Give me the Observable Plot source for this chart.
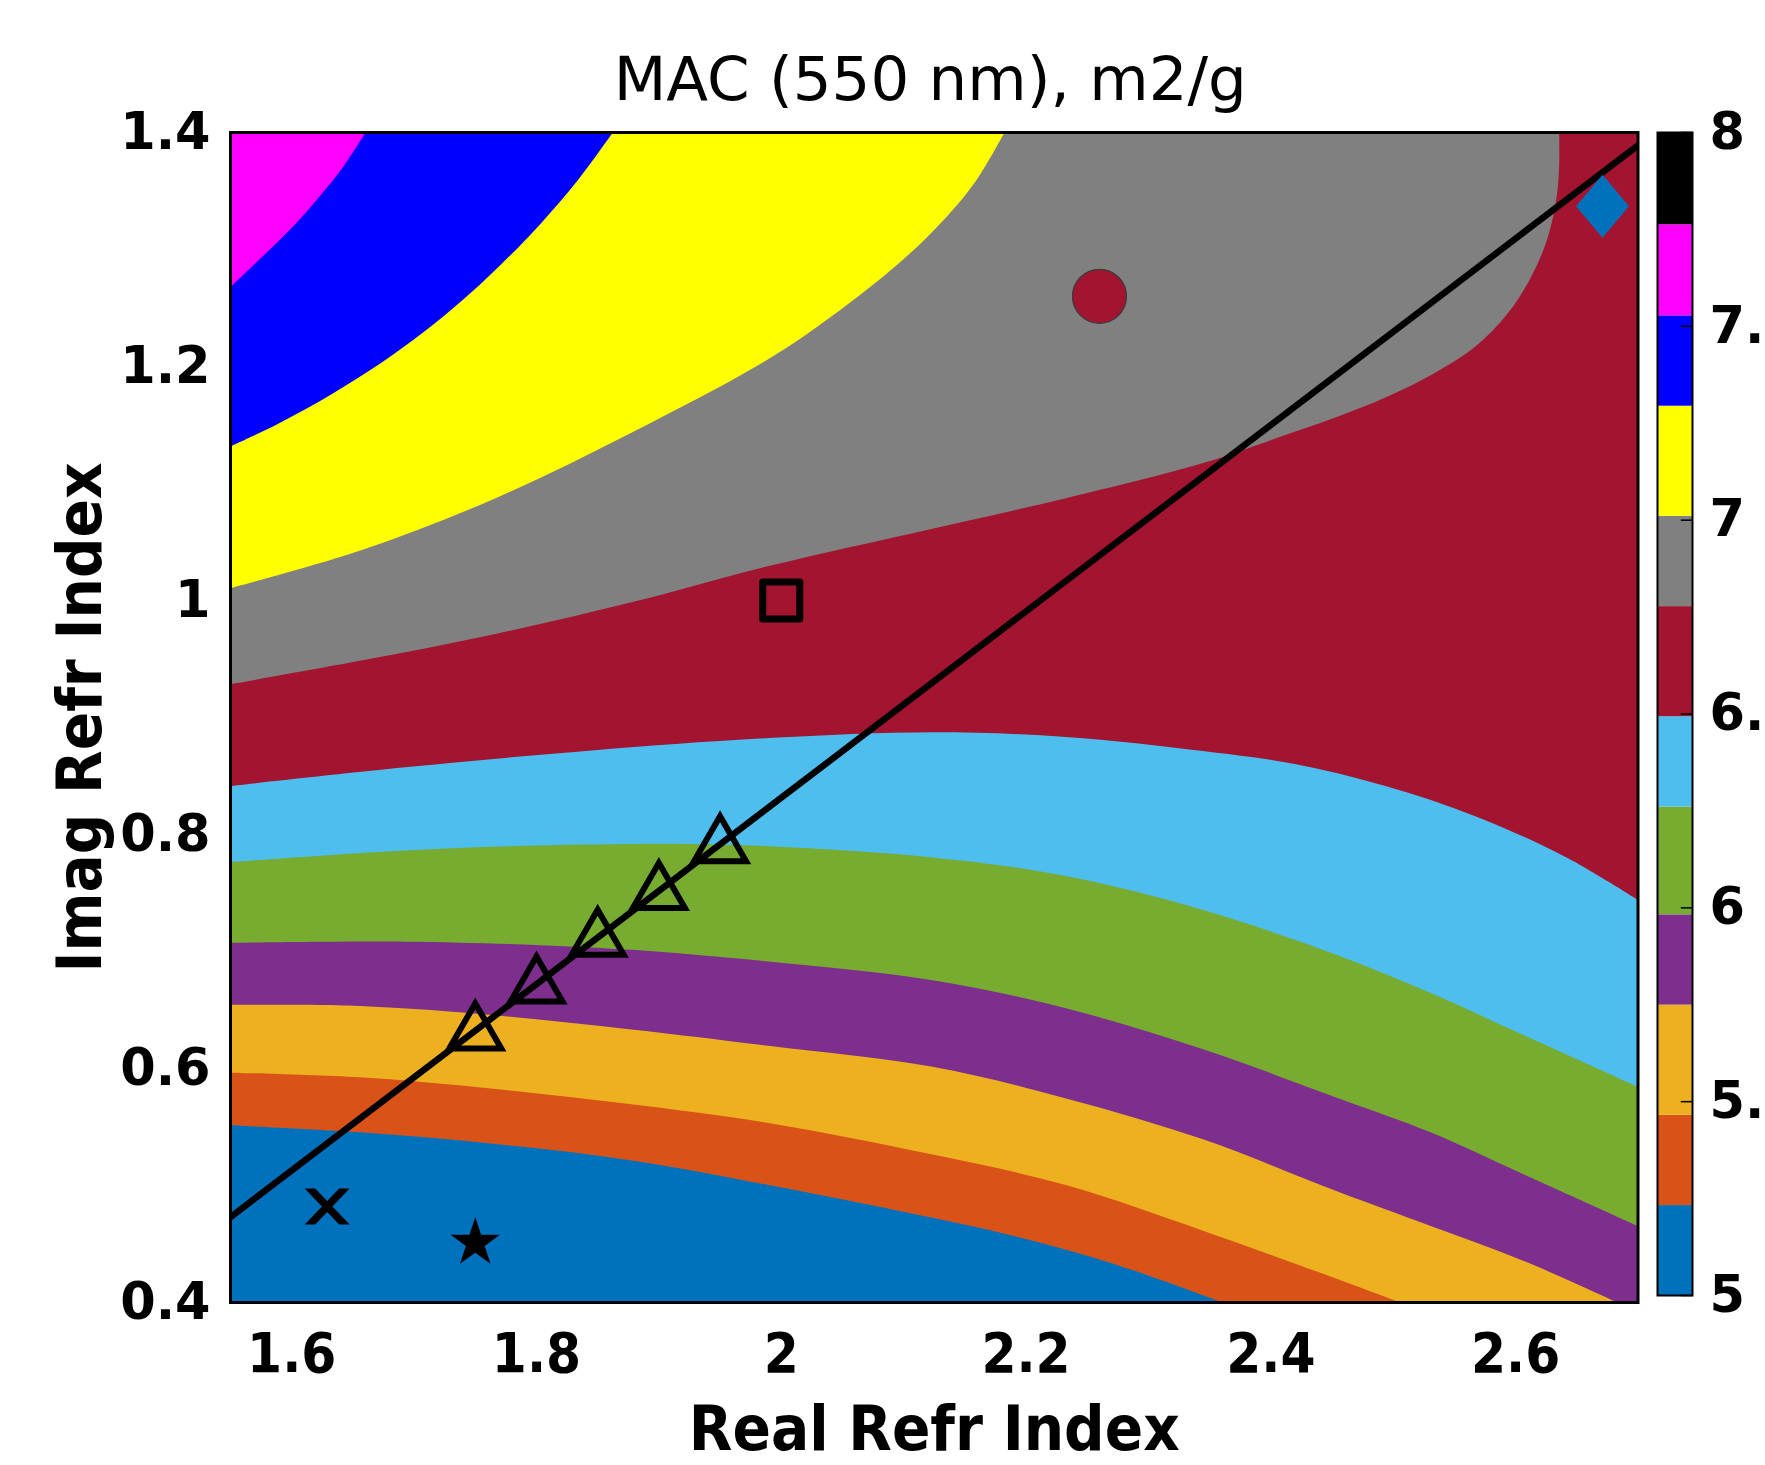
<!DOCTYPE html>
<html><head><meta charset="utf-8">
<script src="https://cdn.jsdelivr.net/npm/d3@7"></script>
<script src="https://cdn.jsdelivr.net/npm/@observablehq/plot@0.6"></script>
<style>
html,body{margin:0;padding:0;background:#fff;}
#wrap{position:relative;width:1765px;height:1465px;overflow:hidden;background:#fff;}
#wrap svg{position:absolute;top:0;}
</style></head><body><div id="wrap"></div>
<script>
// ---- axis ticks ----
const xTicks = [1.6, 1.8, 2, 2.2, 2.4, 2.6];
const xTickLabels = ["1.6", "1.8", "2", "2.2", "2.4", "2.6"];
const yTicks = [0.4, 0.6, 0.8, 1, 1.2, 1.4];
const yTickLabels = ["0.4", "0.6", "0.8", "1", "1.2", "1.4"];
const cbTicks = [5, 5.5, 6, 6.5, 7, 7.5, 8];
const cbTickLabels = ["5", "5.5", "6", "6.5", "7", "7.5", "8"];

// ---- colorbar band edges and band colours ----
const cbEdges = [5, 5.232, 5.465, 5.749, 5.982, 6.260, 6.493, 6.777, 7.010, 7.294, 7.527, 7.762, 8];
const bandColors = ["#0072BD", "#D95319", "#EDB120", "#7E2F8E", "#77AC30", "#4DBEEE",
                    "#A2142F", "#808080", "#FFFF00", "#0000FF", "#FF00FF", "#000000"];

// ---- contour lines (band boundaries): [real index, imag index] ----
const contour1 = [[1.55,0.551],[1.656,0.545],[1.767,0.535],[1.878,0.521],[1.990,0.500],[2.124,0.472],[2.196,0.455],[2.271,0.433],[2.360,0.400],[2.404,0.383],[2.70,0.27]];
const contour2 = [[1.55,0.596],[1.656,0.592],[1.767,0.582],[1.878,0.569],[1.990,0.553],[2.124,0.526],[2.233,0.500],[2.345,0.461],[2.438,0.426],[2.505,0.400],[2.549,0.383],[2.70,0.33]];
const contour3 = [[1.55,0.654],[1.656,0.653],[1.767,0.645],[1.878,0.633],[1.990,0.619],[2.124,0.601],[2.233,0.574],[2.345,0.539],[2.456,0.494],[2.531,0.465],[2.605,0.436],[2.683,0.400],[2.70,0.392]];
const contour4 = [[1.55,0.707],[1.693,0.708],[1.804,0.705],[1.878,0.701],[1.990,0.691],[2.124,0.675],[2.233,0.651],[2.345,0.616],[2.456,0.574],[2.531,0.545],[2.605,0.510],[2.70,0.465]];
const contour5 = [[1.55,0.776],[1.693,0.786],[1.841,0.791],[1.952,0.791],[2.124,0.780],[2.233,0.764],[2.345,0.735],[2.456,0.696],[2.531,0.664],[2.605,0.629],[2.70,0.584]];
const contour6 = [[1.55,0.841],[1.693,0.857],[1.841,0.871],[1.990,0.882],[2.124,0.887],[2.233,0.883],[2.345,0.871],[2.419,0.860],[2.494,0.841],[2.568,0.815],[2.642,0.780],[2.70,0.744]];
const contour7 = [[1.55,0.928],[1.656,0.948],[1.767,0.971],[1.878,0.998],[1.990,1.029],[2.124,1.061],[2.233,1.087],[2.345,1.117],[2.404,1.138],[2.456,1.157],[2.494,1.173],[2.531,1.192],[2.568,1.217],[2.594,1.245],[2.614,1.278],[2.627,1.311],[2.634,1.345],[2.636,1.372],[2.636,1.40]];
const contour8 = [[1.55,1.010],[1.656,1.042],[1.767,1.087],[1.878,1.143],[1.990,1.206],[2.05,1.249],[2.10,1.291],[2.135,1.327],[2.16,1.359],[2.183,1.40]];
const contour9 = [[1.55,1.131],[1.589,1.1505],[1.634,1.1766],[1.674,1.203],[1.708,1.2288],[1.741,1.2572],[1.771,1.2863],[1.804,1.3219],[1.834,1.3585],[1.863,1.40]];
const contour10 = [[1.55,1.267],[1.578,1.295],[1.604,1.322],[1.624,1.346],[1.643,1.371],[1.661,1.40]];

// ---- overlaid line and markers ----
const fitLine = [[1.55, 0.473], [2.70, 1.389]];
const trianglePts = [[1.75,0.63],[1.80,0.67],[1.85,0.71],[1.90,0.75],[1.95,0.79]];
const squarePts = [[2.0, 1.0]];
const circlePts = [[2.26, 1.26]];
const diamondPts = [[2.671, 1.337]];
const crossPts = [[1.629, 0.482]];
const starPts = [[1.75, 0.451]];

const xDomain = [1.55, 2.7];
const yDomain = [0.4, 1.4];
const cbDomain = [5, 8];

// ---- fonts ----
const wideBold = "'DejaVu Sans', sans-serif";
const condBold = "'DejaVu Sans Condensed', 'Liberation Sans Narrow', 'DejaVu Sans', sans-serif";

// custom marker shapes
const diamondSym = {draw(ctx) { const w = 26.5, h = 31.5; ctx.moveTo(0,-h); ctx.lineTo(w,0); ctx.lineTo(0,h); ctx.lineTo(-w,0); ctx.closePath(); }};
const crossSym = {draw(ctx) {
  const W = 22.5, H = 18, t = 10.5;
  ctx.moveTo(-W,-H); ctx.lineTo(-W+t,-H); ctx.lineTo(W,H); ctx.lineTo(W-t,H); ctx.closePath();
  ctx.moveTo(W-t,-H); ctx.lineTo(W,-H); ctx.lineTo(-W+t,H); ctx.lineTo(-W,H); ctx.closePath();
}};

const contours = [contour1, contour2, contour3, contour4, contour5, contour6, contour7, contour8, contour9, contour10];
const X = d => d[0], Y = d => d[1];

const bandMarks = contours.map((c, i) => Plot.areaY(c, {
  x: X, y1: Y, y2: () => yDomain[1], fill: bandColors[i + 1], curve: "catmull-rom", clip: true
}));

const main = Plot.plot({
  width: 1765, height: 1465,
  marginLeft: 230, marginRight: 127.5, marginTop: 132, marginBottom: 163,
  style: {fontFamily: wideBold, background: "transparent", overflow: "visible"},
  x: {domain: xDomain, axis: null},
  y: {domain: yDomain, axis: null},
  marks: [
    Plot.frame({fill: bandColors[0], stroke: null}),
    ...bandMarks,
    Plot.line(fitLine, {x: X, y: Y, stroke: "black", strokeWidth: 6.5, clip: true}),
    Plot.dot(trianglePts, {x: X, y: Y, symbol: "triangle", r: 19.3, fill: "none", stroke: "black", strokeWidth: 6, strokeLinejoin: "miter"}),
    Plot.dot(squarePts, {x: X, y: Y, symbol: "square", r: 20.9, fill: "none", stroke: "black", strokeWidth: 7, strokeLinejoin: "round"}),
    Plot.dot(circlePts, {x: X, y: Y, symbol: "circle", r: 27, fill: "#A2142F", stroke: "#3a3a3a", strokeWidth: 1.2}),
    Plot.dot(diamondPts, {x: X, y: Y, symbol: diamondSym, fill: "#0072BD", stroke: null}),
    Plot.dot(crossPts, {x: X, y: Y, symbol: crossSym, fill: "black", stroke: null}),
    Plot.dot(starPts, {x: X, y: Y, symbol: "star", r: 15.5, fill: "black", stroke: null}),
    Plot.frame({stroke: "black", strokeWidth: 3}),
    Plot.axisY({ticks: yTicks, tickFormat: d => yTickLabels[yTicks.indexOf(d)], tickSize: 0, tickPadding: 20,
      fontSize: 51, fontWeight: "bold", fontFamily: wideBold, label: null, fill: "black"}),
    Plot.axisX({ticks: xTicks, tickFormat: d => xTickLabels[xTicks.indexOf(d)], tickSize: 0, tickPadding: 30,
      fontSize: 56, fontWeight: "bold", fontFamily: condBold, label: null, fill: "black"}),
    Plot.text(["Real Refr Index"], {frameAnchor: "bottom", textAnchor: "middle", lineAnchor: "middle", dy: 127,
      fontSize: 63, fontWeight: "bold", fontFamily: condBold, fill: "black"}),
    Plot.text(["Imag Refr Index"], {frameAnchor: "left", textAnchor: "middle", lineAnchor: "middle", rotate: -90, dx: -150,
      fontSize: 63, fontWeight: "bold", fontFamily: condBold, fill: "black"}),
    Plot.text(["MAC (550 nm), m2/g"], {frameAnchor: "top", textAnchor: "middle", lineAnchor: "middle", dy: -52.5, dx: -4,
      fontSize: 61, fontWeight: "normal", fontFamily: "'DejaVu Sans', sans-serif", fill: "black"})
  ]
});
main.style.left = "0px";

// ---- colorbar ----
const cbBands = bandColors.map((color, i) => ({lo: cbEdges[i], hi: cbEdges[i + 1], color}));
const cbar = Plot.plot({
  width: 125, height: 1465,
  marginLeft: 17, marginRight: 73, marginTop: 132, marginBottom: 170,
  style: {fontFamily: wideBold, background: "transparent", overflow: "visible"},
  x: {domain: [0, 1], axis: null},
  y: {domain: cbDomain, axis: null},
  marks: [
    Plot.rect(cbBands, {x1: 0, x2: 1, y1: "lo", y2: "hi", fill: "color"}),
    Plot.ruleY(cbTicks, {y: d => d, x1: 0.68, x2: 1, stroke: "black", strokeWidth: 1.5}),
    Plot.frame({stroke: "black", strokeWidth: 2}),
    Plot.axisY({anchor: "right", ticks: cbTicks, tickFormat: d => cbTickLabels[cbTicks.indexOf(d)], tickSize: 0, tickPadding: 17,
      fontSize: 51, fontWeight: "bold", fontFamily: wideBold, label: null, fill: "black", letterSpacing: -2})
  ]
});
cbar.style.left = "1640px";

const wrap = document.getElementById("wrap");
wrap.appendChild(main);
wrap.appendChild(cbar);
</script></body></html>
